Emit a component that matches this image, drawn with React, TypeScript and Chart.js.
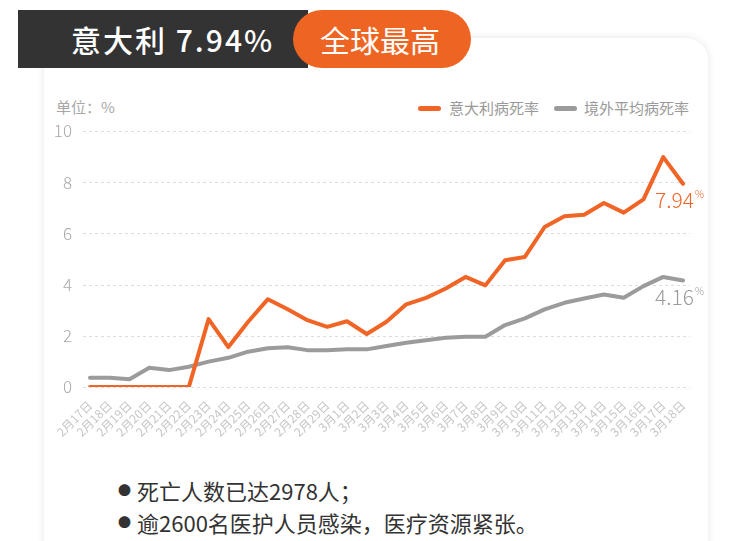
import React, { useEffect, useRef } from "react";
import { Chart, registerables } from "chart.js";

Chart.register(...registerables);

const categories = [
  "2月17日", "2月18日", "2月19日", "2月20日", "2月21日", "2月22日", "2月23日",
  "2月24日", "2月25日", "2月26日", "2月27日", "2月28日", "2月29日",
  "3月1日", "3月2日", "3月3日", "3月4日", "3月5日", "3月6日", "3月7日", "3月8日",
  "3月9日", "3月10日", "3月11日", "3月12日", "3月13日", "3月14日", "3月15日",
  "3月16日", "3月17日", "3月18日",
];

const italyRate = [
  0, 0, 0, 0, 0, 0, 2.65, 1.56, 2.55, 3.43, 3.04, 2.61, 2.35,
  2.57, 2.07, 2.55, 3.23, 3.48, 3.85, 4.3, 3.97, 4.95, 5.08, 6.25, 6.67,
  6.73, 7.19, 6.81, 7.33, 8.98, 7.94,
];

const overseasRate = [
  0.36, 0.36, 0.3, 0.75, 0.66, 0.79, 0.99, 1.14, 1.38, 1.51, 1.55, 1.44, 1.44,
  1.47, 1.47, 1.6, 1.73, 1.83, 1.92, 1.96, 1.96, 2.42, 2.68, 3.03, 3.29,
  3.46, 3.61, 3.49, 3.94, 4.3, 4.16,
];

const seriesNames = ["意大利病死率", "境外平均病死率"];
const endLabels = ["7.94", "4.16"];
const yMin = 0;
const yMax = 10;
const yStep = 2;

const ORANGE = "#f06526";
const GRAY = "#9b9b9b";
const FONT = '"Noto Sans CJK SC", "Noto Sans", sans-serif';

const gridPlugin = {
  id: "dashGrid",
  beforeDatasetsDraw(chart: any) {
    const { ctx, chartArea, scales } = chart;
    const y = scales.y;
    ctx.save();
    ctx.strokeStyle = "#dcdcdc";
    ctx.lineWidth = 1;
    ctx.setLineDash([3, 3]);
    y.ticks.forEach((t: any) => {
      const py = Math.round(y.getPixelForValue(t.value)) + 0.5;
      ctx.beginPath();
      ctx.moveTo(chartArea.left - 7, py);
      ctx.lineTo(chartArea.right + 7, py);
      ctx.stroke();
    });
    ctx.restore();
  },
};

const endLabelPlugin = {
  id: "endLabels",
  afterDatasetsDraw(chart: any) {
    const { ctx } = chart;
    chart.data.datasets.forEach((ds: any, i: number) => {
      const meta = chart.getDatasetMeta(i);
      const pt = meta.data[meta.data.length - 1];
      if (!pt) return;
      const x = pt.x + 11;
      const y = pt.y + 24;
      ctx.save();
      ctx.fillStyle = ds.borderColor;
      ctx.font = `300 21px ${FONT}`;
      ctx.textAlign = "right";
      ctx.textBaseline = "alphabetic";
      ctx.fillText(endLabels[i], x, y);
      ctx.font = `300 10px ${FONT}`;
      ctx.textAlign = "left";
      ctx.fillText("%", x + 1, y - 10);
      ctx.restore();
    });
  },
};

function LineChart() {
  const ref = useRef<HTMLCanvasElement | null>(null);
  useEffect(() => {
    if (!ref.current) return;
    const chart = new Chart(ref.current, {
      type: "line",
      data: {
        labels: categories,
        datasets: [
          {
            label: seriesNames[0],
            data: italyRate,
            borderColor: ORANGE,
            backgroundColor: ORANGE,
            borderWidth: 4,
            pointRadius: 0,
            tension: 0,
            borderJoinStyle: "round",
            borderCapStyle: "round",
            order: 0,
          },
          {
            label: seriesNames[1],
            data: overseasRate,
            borderColor: GRAY,
            backgroundColor: GRAY,
            borderWidth: 4,
            pointRadius: 0,
            tension: 0,
            borderJoinStyle: "round",
            borderCapStyle: "round",
            order: 1,
          },
        ],
      },
      options: {
        animation: false,
        responsive: false,
        layout: { padding: { top: 11, right: 25, left: 0, bottom: 0 } },
        plugins: {
          legend: { display: false },
          tooltip: { enabled: false },
        },
        scales: {
          x: {
            offset: false,
            grid: { display: false, drawTicks: false },
            border: { display: false },
            ticks: {
              autoSkip: false,
              minRotation: 45,
              maxRotation: 45,
              padding: 11,
              color: "#c6c6c6",
              font: { family: FONT, size: 12 },
            },
            afterFit: (s: any) => {
              s.height = 63;
              s.paddingLeft = 0;
              s.paddingRight = 0;
              s.paddingTop = 0;
              s.paddingBottom = 0;
            },
          },
          y: {
            min: yMin,
            max: yMax,
            grid: { display: false, drawTicks: false },
            border: { display: false },
            ticks: {
              stepSize: yStep,
              padding: 18,
              color: "#a8a8a8",
              font: { family: FONT, size: 17, weight: "300" as any },
            },
            afterFit: (s: any) => {
              s.width = 46;
              s.paddingLeft = 0;
              s.paddingRight = 0;
              s.paddingTop = 0;
              s.paddingBottom = 0;
            },
          },
        },
      },
      plugins: [gridPlugin, endLabelPlugin],
    });
    return () => chart.destroy();
  }, []);
  return (
    <canvas
      ref={ref}
      width={664}
      height={330}
      style={{ position: "absolute", left: 44, top: 120, width: 664, height: 330 }}
    />
  );
}

export default function App() {
  const abs = (o: any) => ({ position: "absolute" as const, ...o });
  return (
    <div
      style={{
        position: "absolute",
        left: 0,
        top: 0,
        width: 753,
        height: 541,
        overflow: "hidden",
        background: "#fff",
        fontFamily: FONT,
      }}
    >
      <div
        style={abs({
          left: 44,
          top: 38,
          width: 664,
          height: 600,
          borderRadius: 22,
          background: "#fff",
          boxShadow: "0 0 9px rgba(0,0,0,0.10)",
        })}
      />
      <div style={abs({ left: 18, top: 10, width: 290, height: 58, background: "#333333" })} />
      <div
        style={abs({
          left: 293,
          top: 10,
          width: 178,
          height: 58,
          borderRadius: 29,
          background: "#ee6523",
        })}
      />
      <div
        style={abs({
          left: 71,
          top: 10,
          height: 58,
          lineHeight: "58px",
          color: "#fff",
          fontSize: 30,
          fontWeight: 500,
          letterSpacing: 2,
          whiteSpace: "nowrap",
        })}
      >
        意大利 7.94%
      </div>
      <div
        style={abs({
          left: 320,
          top: 10,
          height: 58,
          lineHeight: "58px",
          color: "#fff",
          fontSize: 30,
          whiteSpace: "nowrap",
        })}
      >
        全球最高
      </div>

      <div style={abs({ left: 56, top: 97, lineHeight: "20px", fontSize: 15, color: "#a8a8a8" })}>
        单位：%
      </div>
      <div style={abs({ left: 418, top: 106, width: 23, height: 5, borderRadius: 3, background: ORANGE })} />
      <div style={abs({ left: 449, top: 98, lineHeight: "20px", fontSize: 15, color: "#9a9a9a", whiteSpace: "nowrap" })}>
        {seriesNames[0]}
      </div>
      <div style={abs({ left: 554, top: 106, width: 23, height: 5, borderRadius: 3, background: GRAY })} />
      <div style={abs({ left: 584, top: 98, lineHeight: "20px", fontSize: 15, color: "#9a9a9a", whiteSpace: "nowrap" })}>
        {seriesNames[1]}
      </div>

      <LineChart />

      <div style={abs({ left: 118, top: 475, lineHeight: "30px", fontSize: 13, color: "#333" })}>●</div>
      <div style={abs({ left: 137, top: 475, lineHeight: "30px", fontSize: 22, color: "#333", whiteSpace: "nowrap" })}>
        死亡人数已达2978人；
      </div>
      <div style={abs({ left: 118, top: 507, lineHeight: "30px", fontSize: 13, color: "#333" })}>●</div>
      <div style={abs({ left: 137, top: 507, lineHeight: "30px", fontSize: 22, color: "#333", whiteSpace: "nowrap" })}>
        逾2600名医护人员感染，医疗资源紧张。
      </div>
    </div>
  );
}
